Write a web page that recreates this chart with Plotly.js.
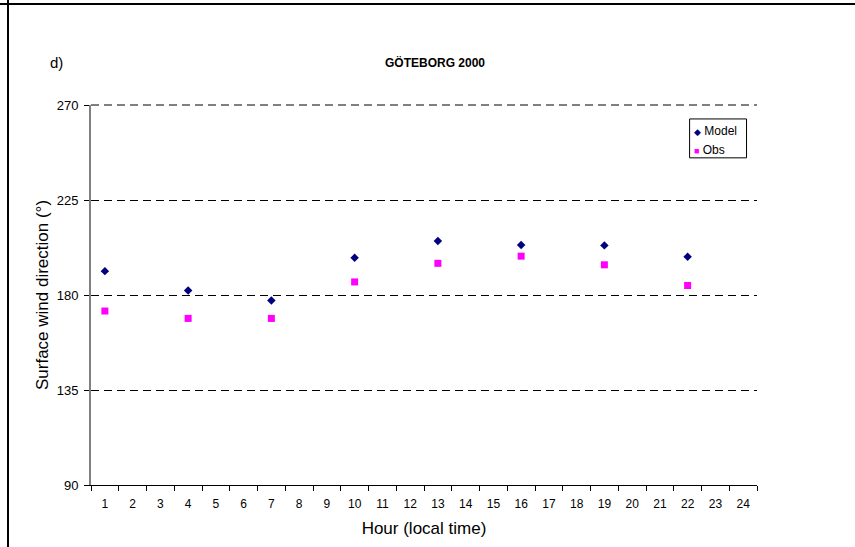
<!DOCTYPE html>
<html>
<head>
<meta charset="utf-8">
<script src="https://cdn.plot.ly/plotly-3.0.1.min.js"></script>
<style>
  html, body { margin: 0; padding: 0; background: #fff; }
  #chart { width: 855px; height: 547px; position: absolute; left: 0; top: 0; }
  .frameTop { position: absolute; left: 0; top: 3px; width: 855px; height: 2px; background: #000; }
  .frameLeft { position: absolute; left: 7px; top: 0; width: 2px; height: 547px; background: #000; }
</style>
</head>
<body>
<div id="chart"></div>
<div class="frameTop"></div>
<div class="frameLeft"></div>
<script>
const hourLabels = ["1","2","3","4","5","6","7","8","9","10","11","12","13","14","15","16","17","18","19","20","21","22","23","24"];
const hours = ["1","4","7","10","13","16","19","22"];
const modelValues = [191.3, 182.1, 177.4, 197.6, 205.6, 203.7, 203.5, 198.1];
const obsValues = [172.4, 168.9, 168.9, 186.2, 195.0, 198.4, 194.3, 184.5];
const yTicks = [90, 135, 180, 225, 270];
const seriesNames = ["Model", "Obs"];
const seriesColors = ["#000080", "#FF00FF"];

const traces = [
  { x: hours, y: modelValues, name: seriesNames[0], type: "scatter", mode: "markers",
    marker: { symbol: "diamond", color: seriesColors[0], size: 6.5 } },
  { x: hours, y: obsValues, name: seriesNames[1], type: "scatter", mode: "markers",
    marker: { symbol: "square", color: seriesColors[1], size: 7 } }
];

const layout = {
  width: 855, height: 547,
  margin: { l: 90.5, r: 97.5, t: 104.5, b: 61.5 },
  paper_bgcolor: "#fff", plot_bgcolor: "#fff",
  font: { family: "Liberation Sans, Arial, sans-serif", color: "#000", size: 12 },
  showlegend: false,
  xaxis: {
    type: "category", categoryorder: "array", categoryarray: hourLabels,
    range: [-0.5, 23.5], tickson: "boundaries",
    showline: true, linecolor: "#000", linewidth: 1,
    ticks: "outside", ticklen: 5, tickcolor: "#000",
    ticklabelstandoff: 8,
    showgrid: false, zeroline: false,
    tickfont: { size: 12 },
    title: { text: "Hour (local time)", font: { size: 17 }, standoff: 11 }
  },
  yaxis: {
    range: [90, 270], tickvals: yTicks, ticktext: yTicks.map(String),
    showline: true, linecolor: "#808080", linewidth: 2,
    ticks: "outside", ticklen: 5, tickcolor: "#000",
    ticklabelstandoff: 3,
    showgrid: true, gridcolor: "#000", gridwidth: 1, griddash: "8px,5px",
    zeroline: false, tickfont: { size: 13 },
    title: { text: "Surface wind direction (°)", font: { size: 17 }, standoff: 4 }
  },
  shapes: [
    { type: "line", xref: "paper", yref: "paper", x0: 0, x1: 1, y0: 1, y1: 1,
      line: { color: "#000", width: 1, dash: "8px,5px" }, layer: "above" },
    { type: "rect", xref: "paper", yref: "paper", x0: 0.8988, x1: 0.9843, y0: 0.8609, y1: 0.9633,
      line: { color: "#000", width: 1 }, fillcolor: "#fff", layer: "above" }
  ],
  annotations: [
    { text: "d)", xref: "paper", yref: "paper", x: -0.064, y: 1.113, xanchor: "left", yanchor: "middle",
      showarrow: false, font: { size: 15 } },
    { text: "<b>GÖTEBORG 2000</b>", xref: "paper", yref: "paper", x: 0.5165, y: 1.113, xanchor: "center", yanchor: "middle",
      showarrow: false, font: { size: 12 } },
    { text: "<span style='color:" + seriesColors[0] + ";font-size:9px'>◆</span> " + seriesNames[0],
      xref: "paper", yref: "paper", x: 0.9018, y: 0.9318, xanchor: "left", yanchor: "middle",
      showarrow: false, font: { size: 12 } },
    { text: "<span style='color:" + seriesColors[1] + ";font-size:9px'>■</span> " + seriesNames[1],
      xref: "paper", yref: "paper", x: 0.9018, y: 0.8819, xanchor: "left", yanchor: "middle",
      showarrow: false, font: { size: 12 } }
  ]
};

Plotly.newPlot("chart", traces, layout, { displayModeBar: false, staticPlot: true });
</script>
</body>
</html>
